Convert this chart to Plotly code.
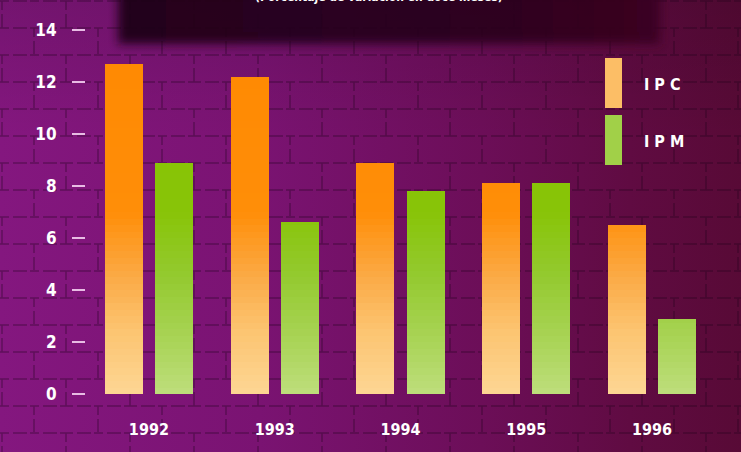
import base64
import plotly.graph_objects as go

# ---------------- data ----------------
years = ["1992", "1993", "1994", "1995", "1996"]
ipc = [12.7, 12.2, 8.9, 8.1, 6.5]
ipm = [8.9, 6.6, 7.8, 8.1, 2.9]
series_names = ["I P C", "I P M"]
y_ticks = [0, 2, 4, 6, 8, 10, 12, 14]
subtitle = "(Porcentaje de variación en doce meses)"

# ---------------- styling ----------------
FONT = "DejaVu Sans Condensed, Liberation Sans Narrow, Arial Narrow, sans-serif"
W, H = 741, 452
ML, MR, MT, MB = 86, 26, 15, 42
Y_RANGE = [-0.615, 14.577]

# gradient stops (value -> colour), by absolute height
orange_stops = [(0.0, (253, 214, 148)), (2.5, (252, 196, 112)), (4.5, (251, 170, 70)),
                (7.0, (255, 142, 8)), (15.0, (255, 136, 0))]
green_stops = [(0.0, (190, 222, 124)), (2.0, (170, 212, 88)), (4.5, (148, 202, 48)),
               (7.0, (136, 196, 8)), (15.0, (134, 194, 0))]


def interp(stops, v):
    for (a, ca), (b, cb) in zip(stops[:-1], stops[1:]):
        if a <= v <= b:
            t = (v - a) / (b - a)
            c = [round(ca[i] + (cb[i] - ca[i]) * t) for i in range(3)]
            return "rgb(%d,%d,%d)" % tuple(c)
    return "rgb(%d,%d,%d)" % stops[-1][1]


# background as an SVG (gradient + faint brick texture + dark banner)
svg = f"""<svg xmlns='http://www.w3.org/2000/svg' width='{W}' height='{H}' viewBox='0 0 {W} {H}'>
<defs>
<linearGradient id='g' x1='0' y1='0' x2='1' y2='0'>
<stop offset='0' stop-color='#84177f'/>
<stop offset='0.35' stop-color='#7a1372'/>
<stop offset='0.65' stop-color='#6c0e58'/>
<stop offset='0.85' stop-color='#600b42'/>
<stop offset='1' stop-color='#580a36'/>
</linearGradient>
<linearGradient id='v' x1='0' y1='0' x2='0' y2='1'>
<stop offset='0' stop-color='#000' stop-opacity='0.12'/>
<stop offset='0.3' stop-color='#000' stop-opacity='0'/>
<stop offset='1' stop-color='#000' stop-opacity='0'/>
</linearGradient>
<linearGradient id='d' x1='0' y1='0' x2='1' y2='0'>
<stop offset='0' stop-color='#1e0318'/>
<stop offset='0.7' stop-color='#2a041c'/>
<stop offset='1' stop-color='#3a0620'/>
</linearGradient>
<pattern id='b' width='64' height='54' patternUnits='userSpaceOnUse'>
<path d='M0 1 H64 M0 28 H64 M2 1 V28 M34 28 V54' stroke='#1a0016' stroke-width='1.5' fill='none' stroke-opacity='0.35' stroke-dasharray='9 4 14 3'/>
</pattern>
<filter id='f' x='-10%' y='-30%' width='120%' height='160%'><feGaussianBlur stdDeviation='5'/></filter>
</defs>
<rect width='{W}' height='{H}' fill='url(#g)'/>
<rect width='{W}' height='{H}' fill='url(#v)'/>
<rect width='{W}' height='{H}' fill='url(#b)'/>
<rect x='118' y='-20' width='542' height='64' fill='url(#d)' filter='url(#f)' opacity='0.92'/>
</svg>"""
svg_uri = "data:image/svg+xml;base64," + base64.b64encode(svg.encode("utf-8")).decode()

pw = W - ML - MR
ph = H - MT - MB


def px_to_paper_x(px):
    return (px - ML) / pw


def px_to_paper_y(py):
    return (H - MB - py) / ph


fig = go.Figure()

# bars drawn as gradient slices of each value (slightly overlapping bands)
STEP = 0.25
OVERLAP = 0.12
max_val = max(ipc + ipm)
n_bands = int(max_val / STEP) + 1
for name, vals, stops in [(series_names[0], ipc, orange_stops), (series_names[1], ipm, green_stops)]:
    for k in range(n_bands):
        b0 = k * STEP
        xs, ys, bs = [], [], []
        for yr, v in zip(years, vals):
            if v > b0:
                xs.append(yr)
                ys.append(min(STEP + OVERLAP, v - b0))
                bs.append(b0)
        if not xs:
            continue
        fig.add_trace(go.Bar(
            x=xs, y=ys, base=bs, name=name, offsetgroup=name,
            marker=dict(color=interp(stops, b0 + STEP / 2), line=dict(width=0)),
            showlegend=False, hoverinfo="skip",
        ))

fig.update_layout(
    width=W, height=H, autosize=False,
    margin=dict(l=ML, r=MR, t=MT, b=MB),
    paper_bgcolor="#6e0f5c", plot_bgcolor="rgba(0,0,0,0)",
    barmode="group", bargap=0.203, bargroupgap=0.24,
    images=[dict(source=svg_uri, xref="paper", yref="paper",
                 x=px_to_paper_x(0), y=px_to_paper_y(0),
                 sizex=W / pw, sizey=H / ph, sizing="stretch",
                 xanchor="left", yanchor="top", layer="below")],
    xaxis=dict(type="category", categoryorder="array", categoryarray=years,
               range=[-0.5, 4.5], showgrid=False, zeroline=False, showline=False,
               ticks="", ticklabelstandoff=8,
               tickfont=dict(family=FONT, size=16, color="white", weight="bold")),
    yaxis=dict(range=Y_RANGE, tickvals=y_ticks, ticktext=[str(t) for t in y_ticks],
               showgrid=False, zeroline=False, showline=False,
               ticks="outside", ticklen=13, tickwidth=1.5, tickcolor="#e8bce4",
               ticklabelstandoff=12,
               tickfont=dict(family=FONT, size=17, color="white", weight="bold")),
    showlegend=False,
)

# custom legend: tall swatches with spaced labels
legend_cols = [interp(orange_stops, 3.0), interp(green_stops, 3.0)]
sw_top = [58, 115]
for i, (lab, col) in enumerate(zip(series_names, legend_cols)):
    fig.add_shape(type="rect", xref="paper", yref="paper",
                  x0=px_to_paper_x(605), x1=px_to_paper_x(622),
                  y0=px_to_paper_y(sw_top[i] + 50), y1=px_to_paper_y(sw_top[i]),
                  fillcolor=col, line=dict(width=0))
    fig.add_annotation(xref="paper", yref="paper",
                       x=px_to_paper_x(642), y=px_to_paper_y(sw_top[i] + 26),
                       xanchor="left", yanchor="middle", showarrow=False,
                       text=lab, font=dict(family=FONT, size=16, color="white", weight="bold"))

# subtitle cut off at the top edge
fig.add_annotation(xref="paper", yref="paper",
                   x=px_to_paper_x(379), y=px_to_paper_y(-3),
                   xanchor="center", yanchor="middle", showarrow=False,
                   text=subtitle, font=dict(family=FONT, size=12, color="white", weight="bold"))

fig.write_html(
    "out.html", config={"displayModeBar": False},
    post_script=("document.body.style.margin='0';document.body.style.overflow='hidden';"
                 "document.querySelectorAll('.bars path').forEach(function(p){"
                 "p.setAttribute('shape-rendering','crispEdges');});"))
